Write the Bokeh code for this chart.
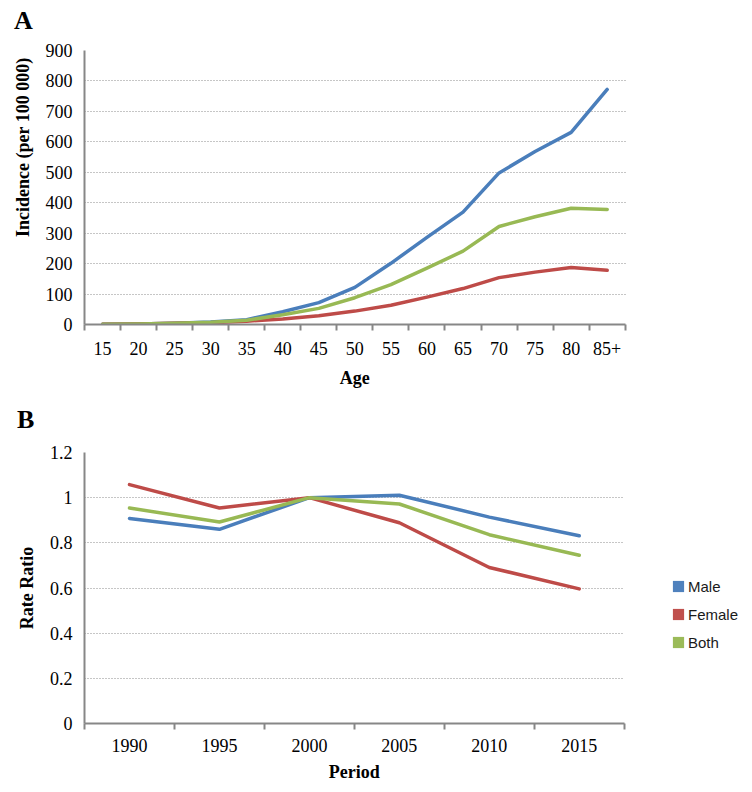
from bokeh.plotting import figure
from bokeh.layouts import column
from bokeh.models import (FixedTicker, Legend, LegendItem, CustomJSTickFormatter, Div,
                          LinearAxis, Title)
from bokeh.embed import file_html
from bokeh.resources import INLINE

# ---- Panel A data ----
ages = ["15", "20", "25", "30", "35", "40", "45", "50", "55", "60", "65", "70", "75", "80", "85+"]
male_inc = [1, 2, 4, 8, 16, 42, 72, 122, 201, 286, 369, 498, 568, 631, 772]
female_inc = [1, 2, 4, 6, 11, 18, 29, 44, 63, 90, 118, 154, 172, 187, 178]
both_inc = [1, 2, 4, 7, 14, 32, 53, 88, 131, 185, 241, 322, 354, 382, 378]
inc_ticks = [0, 100, 200, 300, 400, 500, 600, 700, 800, 900]

# ---- Panel B data ----
periods = ["1990", "1995", "2000", "2005", "2010", "2015"]
male_rr = [0.908, 0.860, 1.0, 1.011, 0.914, 0.831]
female_rr = [1.058, 0.954, 1.0, 0.889, 0.691, 0.596]
both_rr = [0.954, 0.892, 1.0, 0.972, 0.836, 0.745]
rr_ticks = [0, 0.2, 0.4, 0.6, 0.8, 1.0, 1.2]

series_names = ["Male", "Female", "Both"]
line_colors = ["#4a7ebb", "#be4b48", "#98b954"]
legend_colors = ["#4f81bd", "#c0504d", "#9bbb59"]

SERIF = "Liberation Serif"
AXIS_GRAY = "#878787"
GRID_GRAY = "#8c8c8c"

# layout: frames run to the right edge (so the legend fits inside the frame);
# axes and grids are bounded to the category span
FIG_W = 744
LEFT = 80
A_CAT_W = 544   # pixel span of the 15 age groups
B_CAT_W = 543   # pixel span of the 6 periods


def style(p, cats, yticks, y_fmt=None, lab_standoff=11, title_text="", title_standoff=10):
    n = len(cats)
    xs = [i + 0.5 for i in range(n)]
    p.outline_line_color = None
    p.background_fill_color = "white"
    p.xgrid.visible = False
    p.ygrid.ticker = FixedTicker(ticks=yticks)
    p.ygrid.grid_line_color = GRID_GRAY
    p.ygrid.grid_line_dash = "1 2"
    p.ygrid.grid_line_width = 1.2
    try:
        p.ygrid.cross_bounds = (0, n)
    except Exception:
        p.ygrid.visible = False
        p.segment(x0=[0] * len(yticks), x1=[n] * len(yticks), y0=yticks, y1=yticks,
                  line_color=GRID_GRAY, line_dash="1 2", line_width=1.2)

    xa = p.xaxis[0]
    xa.ticker = FixedTicker(ticks=xs, minor_ticks=list(range(n + 1)))
    xa.bounds = (0, n)
    xa.major_label_overrides = {x: c for x, c in zip(xs, cats)}
    xa.major_tick_out = 0
    xa.major_tick_in = 0
    xa.minor_tick_out = 6
    xa.minor_tick_in = 0
    xa.minor_tick_line_color = AXIS_GRAY
    xa.minor_tick_line_width = 2
    xa.axis_line_color = AXIS_GRAY
    xa.axis_line_width = 2
    xa.major_label_text_font = SERIF
    xa.major_label_text_font_size = "18px"
    xa.major_label_text_color = "black"
    xa.major_label_standoff = lab_standoff

    # x-axis title, centred under the category span (not under the whole frame)
    mid = n / 2
    ta = LinearAxis(ticker=FixedTicker(ticks=[mid], minor_ticks=[]),
                    major_label_overrides={mid: title_text},
                    axis_line_color=None, major_tick_line_color=None,
                    minor_tick_line_color=None, major_tick_out=0, major_tick_in=0,
                    major_label_standoff=title_standoff,
                    major_label_text_font=SERIF, major_label_text_font_size="18px",
                    major_label_text_font_style="bold", major_label_text_color="black")
    p.add_layout(ta, "below")

    ya = p.yaxis[0]
    ya.ticker = FixedTicker(ticks=yticks)
    if y_fmt is not None:
        ya.formatter = y_fmt
    ya.major_tick_out = 0
    ya.major_tick_in = 0
    ya.minor_tick_line_color = None
    ya.axis_line_color = AXIS_GRAY
    ya.axis_line_width = 2
    ya.major_label_text_font = SERIF
    ya.major_label_text_font_size = "18px"
    ya.major_label_text_color = "black"
    ya.major_label_standoff = 12
    ya.axis_label_text_font = SERIF
    ya.axis_label_text_font_size = "18px"
    ya.axis_label_text_font_style = "bold"
    ya.axis_label_text_color = "black"
    return xs


def letter_div(letter, height, line_height, left_pad):
    return Div(text=letter, width=120, height=height,
               styles={"font-family": SERIF, "font-size": "26px", "font-weight": "bold",
                       "line-height": f"{line_height}px", "padding-left": f"{left_pad}px",
                       "color": "black", "margin": "0", "overflow": "visible"})


# ---------------- Panel A ----------------
divA = letter_div("A", 40, 42, 14)
x_end_A = len(ages) * (FIG_W - LEFT) / A_CAT_W
pA = figure(width=FIG_W, height=350, output_backend="svg", toolbar_location=None,
            x_range=(0, x_end_A), y_range=(0, 900),
            min_border_left=LEFT, min_border_right=0, min_border_top=10, min_border_bottom=63)
xsA = style(pA, ages, inc_ticks, lab_standoff=11, title_text="Age", title_standoff=10)
for vals, col in zip([male_inc, female_inc, both_inc], line_colors):
    pA.line(xsA, vals, line_color=col, line_width=3.5, line_join="round", line_cap="round")
pA.add_layout(Title(text="Incidence (per 100 000)", align="right", offset=7, standoff=20,
                    text_font=SERIF, text_font_size="18px", text_font_style="bold",
                    text_color="black"), "left")

# ---------------- Panel B ----------------
divB = letter_div("B", 54, 60, 17)
x_end_B = len(periods) * (FIG_W - LEFT) / B_CAT_W
fmt = CustomJSTickFormatter(code="return tick.toFixed(1).replace(/\\.0$/, '');")
pB = figure(width=FIG_W, height=340, output_backend="svg", toolbar_location=None,
            x_range=(0, x_end_B), y_range=(0, 1.2),
            min_border_left=LEFT, min_border_right=0, min_border_top=8, min_border_bottom=58)
xsB = style(pB, periods, rr_ticks, fmt, lab_standoff=9, title_text="Period", title_standoff=7)
pB.yaxis.axis_label = "Rate Ratio"
pB.yaxis.axis_label_standoff = 10
for vals, col in zip([male_rr, female_rr, both_rr], line_colors):
    pB.line(xsB, vals, line_color=col, line_width=3.5, line_join="round", line_cap="round")

nan = float("nan")
items = []
for name, col in zip(series_names, legend_colors):
    r = pB.quad(left=[nan], right=[nan], top=[nan], bottom=[nan], fill_color=col, line_color=None)
    items.append(LegendItem(label=name, renderers=[r]))

legend = Legend(items=items, location=(587, 71), padding=0, margin=0, spacing=8,
                glyph_width=14, glyph_height=14, label_standoff=3, label_height=20,
                label_text_font="Liberation Sans", label_text_font_size="15px",
                label_text_color="#1a1a1a", border_line_color=None,
                background_fill_alpha=0)
pB.add_layout(legend, "center")

layout = column(divA, pA, divB, pB, spacing=0)
open("out.html", "w").write(file_html(layout, INLINE))
